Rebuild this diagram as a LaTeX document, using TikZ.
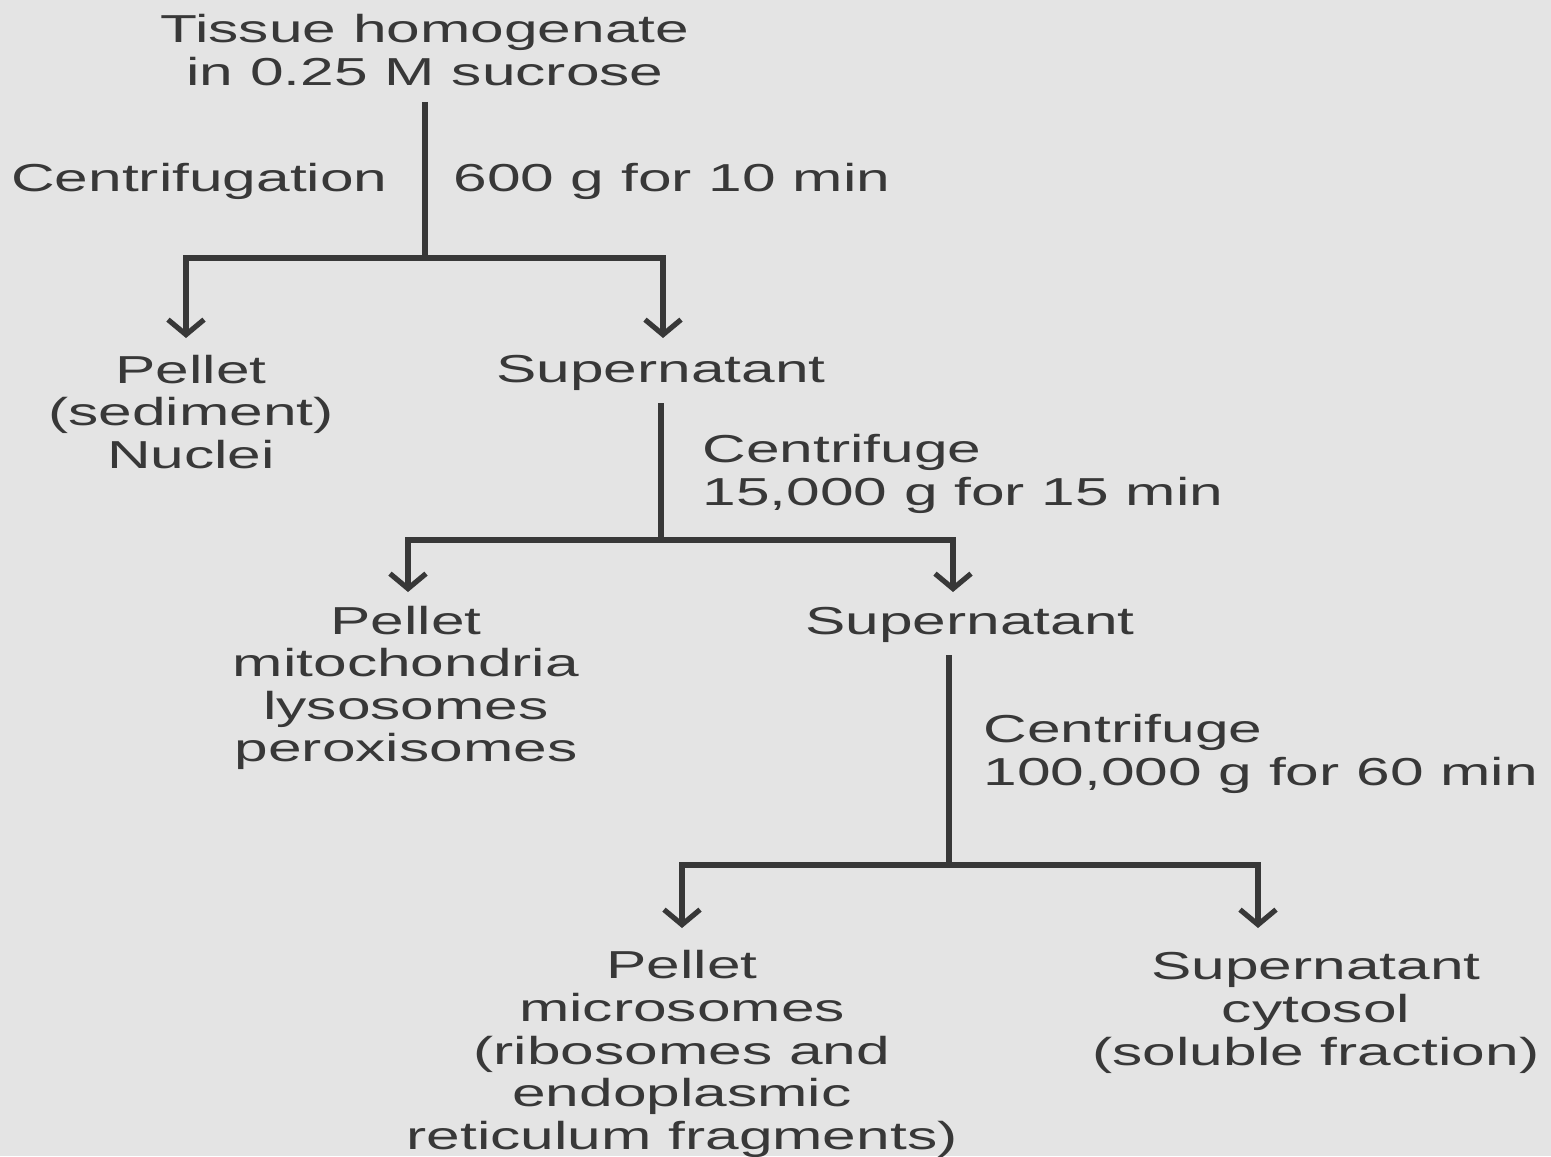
\documentclass[tikz,border=0pt]{standalone}
\usepackage{fontspec}
\setmainfont[FakeStretch=1.55]{Liberation Sans}
\usetikzlibrary{arrows.meta}
\definecolor{bg}{HTML}{E4E4E4}
\definecolor{ink}{HTML}{383838}
\begin{document}
\begin{tikzpicture}[x=0.5pt,y=-0.5pt,
  lbl/.style={inner sep=0pt, text=ink, align=center, font=\fontsize{19.5}{21.3}\selectfont},
  lline/.style={draw=ink, line width=2.6pt},
  arr/.style={lline, -{Straight Barb[length=7.5pt,width=18pt,line width=2.6pt]}}]
\fill[bg] (0,0) rectangle (1551,1156);
\useasboundingbox (0,0) rectangle (1551,1156);
% texts
\node[lbl] (top) at (425,50) {Tissue homogenate\\in 0.25 M sucrose};
\node[lbl, anchor=east] (c1l) at (388,181) {Centrifugation};
\node[lbl, anchor=west] (c1r) at (453,181) {600 g for 10 min};
\node[lbl] (p1) at (191,412) {Pellet\\(sediment)\\Nuclei};
\node[lbl] (s1) at (661,373) {Supernatant};
\node[lbl, anchor=west, align=left] (c2) at (702,474) {Centrifuge\\15,000 g for 15 min};
\node[lbl] (p2) at (406,688) {Pellet\\mitochondria\\lysosomes\\peroxisomes};
\node[lbl] (s2) at (970,625) {Supernatant};
\node[lbl, anchor=west, align=left] (c3) at (983,754) {Centrifuge\\100,000 g for 60 min};
\node[lbl] (p3) at (682,1054) {Pellet\\microsomes\\(ribosomes and\\endoplasmic\\reticulum fragments)};
\node[lbl] (s3) at (1316,1013) {Supernatant\\cytosol\\(soluble fraction)};
% connector points
\coordinate (a1) at (425,102);
\coordinate (j1) at (425,258);
\coordinate (t1l) at (186,338);
\coordinate (t1r) at (663,338);
\coordinate (a2) at (661,403);
\coordinate (j2) at (661,540);
\coordinate (t2l) at (408,592);
\coordinate (t2r) at (953,592);
\coordinate (a3) at (949,655);
\coordinate (j3) at (949,865);
\coordinate (t3l) at (682,928);
\coordinate (t3r) at (1258,928);
% connectors
\draw[lline] (a1) -- (j1);
\draw[arr] (j1) -| (t1l);
\draw[arr] (j1) -| (t1r);
\draw[lline] (a2) -- (j2);
\draw[arr] (j2) -| (t2l);
\draw[arr] (j2) -| (t2r);
\draw[lline] (a3) -- (j3);
\draw[arr] (j3) -| (t3l);
\draw[arr] (j3) -| (t3r);
\end{tikzpicture}
\end{document}
